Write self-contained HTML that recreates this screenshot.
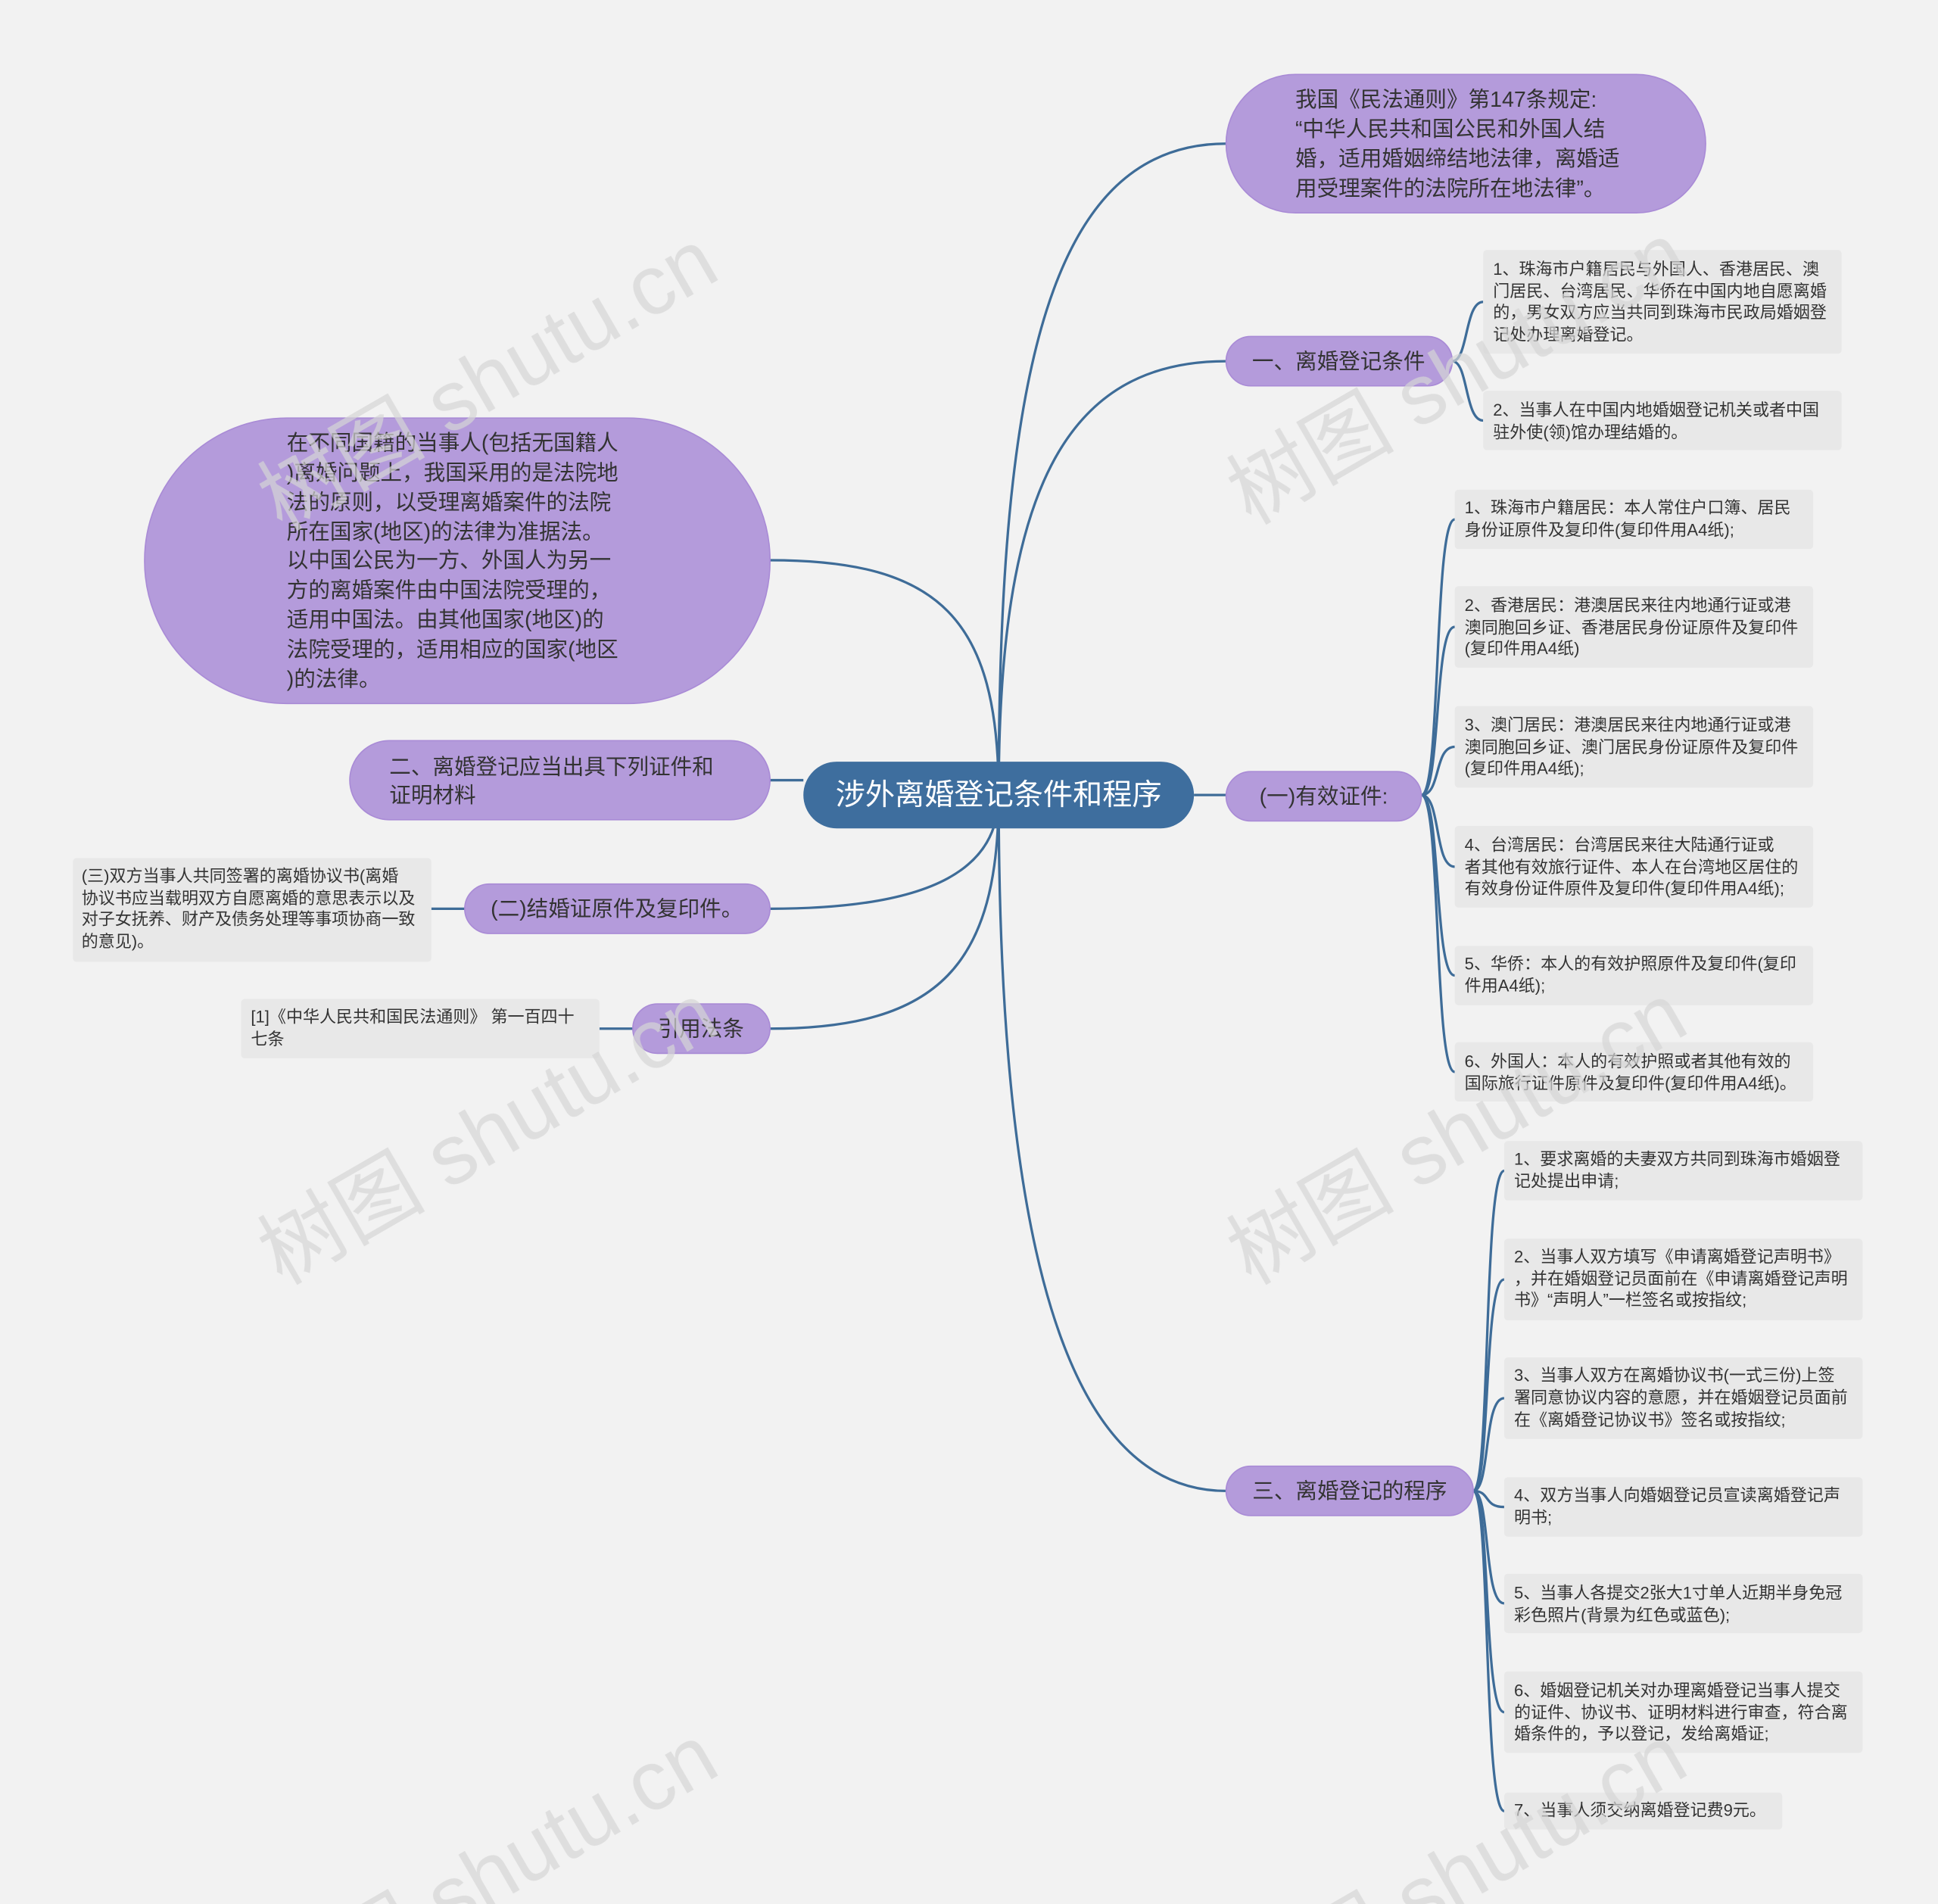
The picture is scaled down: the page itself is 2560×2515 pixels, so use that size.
<!DOCTYPE html>
<html><head><meta charset="utf-8"><style>
html,body{margin:0;padding:0;background:#f2f2f2;overflow:hidden;width:2560px;height:2515px;}
svg{display:block;}
text{font-family:"Liberation Sans","Noto Sans CJK SC",sans-serif;}
.n{font-size:17.5px;fill:#333;}
.l{font-size:13.5px;fill:#333;}
.w{font-size:68px;fill:#d6d6d6;opacity:0.7;}
</style></head><body>
<svg width="2560" height="2515" viewBox="0 0 1568 1540" xmlns="http://www.w3.org/2000/svg">
<rect width="1568" height="1540" fill="#f2f2f2"/>
<g fill="none" stroke="#3e6c98" stroke-width="2">
<path d="M808 643 C808 300,850 116,992 116"/>
<path d="M808 643 C808 400,860 292,992 292"/>
<path d="M966 643 L992 643"/>
<path d="M808 643 C808 1000,860 1206,992 1206"/>
<path d="M808 643 C808 500,760 453,623 453"/>
<path d="M650 631 L623 631"/>
<path d="M808 643 C808 700,760 735,623 735"/>
<path d="M808 643 C808 780,760 832,623 832"/>
<path d="M1175 292 C1188 292,1185 244,1200 244"/>
<path d="M1175 292 C1188 292,1185 340,1200 340"/>
<path d="M1150 643 C1166 643,1160 420,1177 420"/>
<path d="M1150 643 C1166 643,1160 507,1177 507"/>
<path d="M1150 643 C1166 643,1160 604,1177 604"/>
<path d="M1150 643 C1166 643,1160 701,1177 701"/>
<path d="M1150 643 C1166 643,1160 789,1177 789"/>
<path d="M1150 643 C1166 643,1160 867,1177 867"/>
<path d="M1192 1206 C1206 1206,1200 947,1217 947"/>
<path d="M1192 1206 C1206 1206,1200 1035,1217 1035"/>
<path d="M1192 1206 C1206 1206,1200 1131,1217 1131"/>
<path d="M1192 1206 C1206 1206,1200 1219,1217 1219"/>
<path d="M1192 1206 C1206 1206,1200 1297,1217 1297"/>
<path d="M1192 1206 C1206 1206,1200 1385,1217 1385"/>
<path d="M1192 1206 C1206 1206,1200 1465,1217 1465"/>
<path d="M376 735 L349 735"/>
<path d="M512 832 L485 832"/>
</g>
<rect x="650" y="616" width="316" height="54" rx="27" fill="#3e6e9e"/>
<text x="808" y="651" text-anchor="middle" style="font-size:24px;fill:#fff">涉外离婚登记条件和程序</text>
<g fill="#b49bdb" stroke="#a98bd6" stroke-width="1">
<rect x="992" y="60" width="388" height="112" rx="56"/>
<rect x="992" y="272" width="183" height="40" rx="20"/>
<rect x="992" y="624" width="158" height="40" rx="20"/>
<rect x="992" y="1186" width="200" height="40" rx="20"/>
<rect x="117" y="338" width="506" height="231" rx="115"/>
<rect x="283" y="599" width="340" height="64" rx="32"/>
<rect x="376" y="715" width="247" height="40" rx="20"/>
<rect x="512" y="812" width="111" height="40" rx="20"/>
</g>
<g class="n">
<text x="1048" y="86">我国《民法通则》第147条规定:</text>
<text x="1048" y="110">“中华人民共和国公民和外国人结</text>
<text x="1048" y="134">婚，适用婚姻缔结地法律，离婚适</text>
<text x="1048" y="158">用受理案件的法院所在地法律”。</text>
<text x="1083" y="298" text-anchor="middle">一、离婚登记条件</text>
<text x="1071" y="650" text-anchor="middle">(一)有效证件:</text>
<text x="1092" y="1212" text-anchor="middle">三、离婚登记的程序</text>
<text x="232" y="364">在不同国籍的当事人(包括无国籍人</text>
<text x="232" y="388">)离婚问题上，我国采用的是法院地</text>
<text x="232" y="412">法的原则，以受理离婚案件的法院</text>
<text x="232" y="436">所在国家(地区)的法律为准据法。</text>
<text x="232" y="459">以中国公民为一方、外国人为另一</text>
<text x="232" y="483">方的离婚案件由中国法院受理的，</text>
<text x="232" y="507">适用中国法。由其他国家(地区)的</text>
<text x="232" y="531">法院受理的，适用相应的国家(地区</text>
<text x="232" y="555">)的法律。</text>
<text x="315" y="626">二、离婚登记应当出具下列证件和</text>
<text x="315" y="649">证明材料</text>
<text x="499" y="741" text-anchor="middle">(二)结婚证原件及复印件。</text>
<text x="567" y="838" text-anchor="middle">引用法条</text>
</g>
<g fill="#e8e8e8">
<rect x="1200" y="202" width="290" height="84" rx="3"/>
<rect x="1200" y="316" width="290" height="48" rx="3"/>
<rect x="1177" y="396" width="290" height="48" rx="3"/>
<rect x="1177" y="474" width="290" height="66" rx="3"/>
<rect x="1177" y="571" width="290" height="66" rx="3"/>
<rect x="1177" y="668" width="290" height="66" rx="3"/>
<rect x="1177" y="765" width="290" height="48" rx="3"/>
<rect x="1177" y="843" width="290" height="48" rx="3"/>
<rect x="1217" y="923" width="290" height="48" rx="3"/>
<rect x="1217" y="1002" width="290" height="66" rx="3"/>
<rect x="1217" y="1098" width="290" height="66" rx="3"/>
<rect x="1217" y="1195" width="290" height="48" rx="3"/>
<rect x="1217" y="1273" width="290" height="48" rx="3"/>
<rect x="1217" y="1352" width="290" height="66" rx="3"/>
<rect x="1217" y="1450" width="225" height="30" rx="3"/>
<rect x="59" y="694" width="290" height="84" rx="3"/>
<rect x="195" y="808" width="290" height="48" rx="3"/>
</g>
<g class="l">
<text x="1208" y="222">1、珠海市户籍居民与外国人、香港居民、澳</text>
<text x="1208" y="240">门居民、台湾居民、华侨在中国内地自愿离婚</text>
<text x="1208" y="257">的，男女双方应当共同到珠海市民政局婚姻登</text>
<text x="1208" y="275">记处办理离婚登记。</text>
<text x="1208" y="336">2、当事人在中国内地婚姻登记机关或者中国</text>
<text x="1208" y="354">驻外使(领)馆办理结婚的。</text>
<text x="1185" y="415">1、珠海市户籍居民：本人常住户口簿、居民</text>
<text x="1185" y="433">身份证原件及复印件(复印件用A4纸);</text>
<text x="1185" y="494">2、香港居民：港澳居民来往内地通行证或港</text>
<text x="1185" y="512">澳同胞回乡证、香港居民身份证原件及复印件</text>
<text x="1185" y="529">(复印件用A4纸)</text>
<text x="1185" y="591">3、澳门居民：港澳居民来往内地通行证或港</text>
<text x="1185" y="609">澳同胞回乡证、澳门居民身份证原件及复印件</text>
<text x="1185" y="626">(复印件用A4纸);</text>
<text x="1185" y="688">4、台湾居民：台湾居民来往大陆通行证或</text>
<text x="1185" y="706">者其他有效旅行证件、本人在台湾地区居住的</text>
<text x="1185" y="723">有效身份证件原件及复印件(复印件用A4纸);</text>
<text x="1185" y="784">5、华侨：本人的有效护照原件及复印件(复印</text>
<text x="1185" y="802">件用A4纸);</text>
<text x="1185" y="863">6、外国人：本人的有效护照或者其他有效的</text>
<text x="1185" y="881">国际旅行证件原件及复印件(复印件用A4纸)。</text>
<text x="1225" y="942">1、要求离婚的夫妻双方共同到珠海市婚姻登</text>
<text x="1225" y="960">记处提出申请;</text>
<text x="1225" y="1021">2、当事人双方填写《申请离婚登记声明书》</text>
<text x="1225" y="1039">，并在婚姻登记员面前在《申请离婚登记声明</text>
<text x="1225" y="1056">书》“声明人”一栏签名或按指纹;</text>
<text x="1225" y="1117">3、当事人双方在离婚协议书(一式三份)上签</text>
<text x="1225" y="1135">署同意协议内容的意愿，并在婚姻登记员面前</text>
<text x="1225" y="1153">在《离婚登记协议书》签名或按指纹;</text>
<text x="1225" y="1214">4、双方当事人向婚姻登记员宣读离婚登记声</text>
<text x="1225" y="1232">明书;</text>
<text x="1225" y="1293">5、当事人各提交2张大1寸单人近期半身免冠</text>
<text x="1225" y="1311">彩色照片(背景为红色或蓝色);</text>
<text x="1225" y="1372">6、婚姻登记机关对办理离婚登记当事人提交</text>
<text x="1225" y="1390">的证件、协议书、证明材料进行审查，符合离</text>
<text x="1225" y="1407">婚条件的，予以登记，发给离婚证;</text>
<text x="1225" y="1469">7、当事人须交纳离婚登记费9元。</text>
<text x="66" y="713">(三)双方当事人共同签署的离婚协议书(离婚</text>
<text x="66" y="731">协议书应当载明双方自愿离婚的意思表示以及</text>
<text x="66" y="748">对子女抚养、财产及债务处理等事项协商一致</text>
<text x="66" y="766">的意见)。</text>
<text x="203" y="827">[1]《中华人民共和国民法通则》 第一百四十</text>
<text x="203" y="845">七条</text>
</g>
<g class="w">
<text transform="translate(228,430) rotate(-30)">树图 shutu.cn</text>
<text transform="translate(1012,425) rotate(-30)">树图 shutu.cn</text>
<text transform="translate(228,1040) rotate(-30)">树图 shutu.cn</text>
<text transform="translate(1012,1040) rotate(-30)">树图 shutu.cn</text>
<text transform="translate(228,1640) rotate(-30)">树图 shutu.cn</text>
<text transform="translate(1012,1640) rotate(-30)">树图 shutu.cn</text>
</g>
</svg>
</body></html>
